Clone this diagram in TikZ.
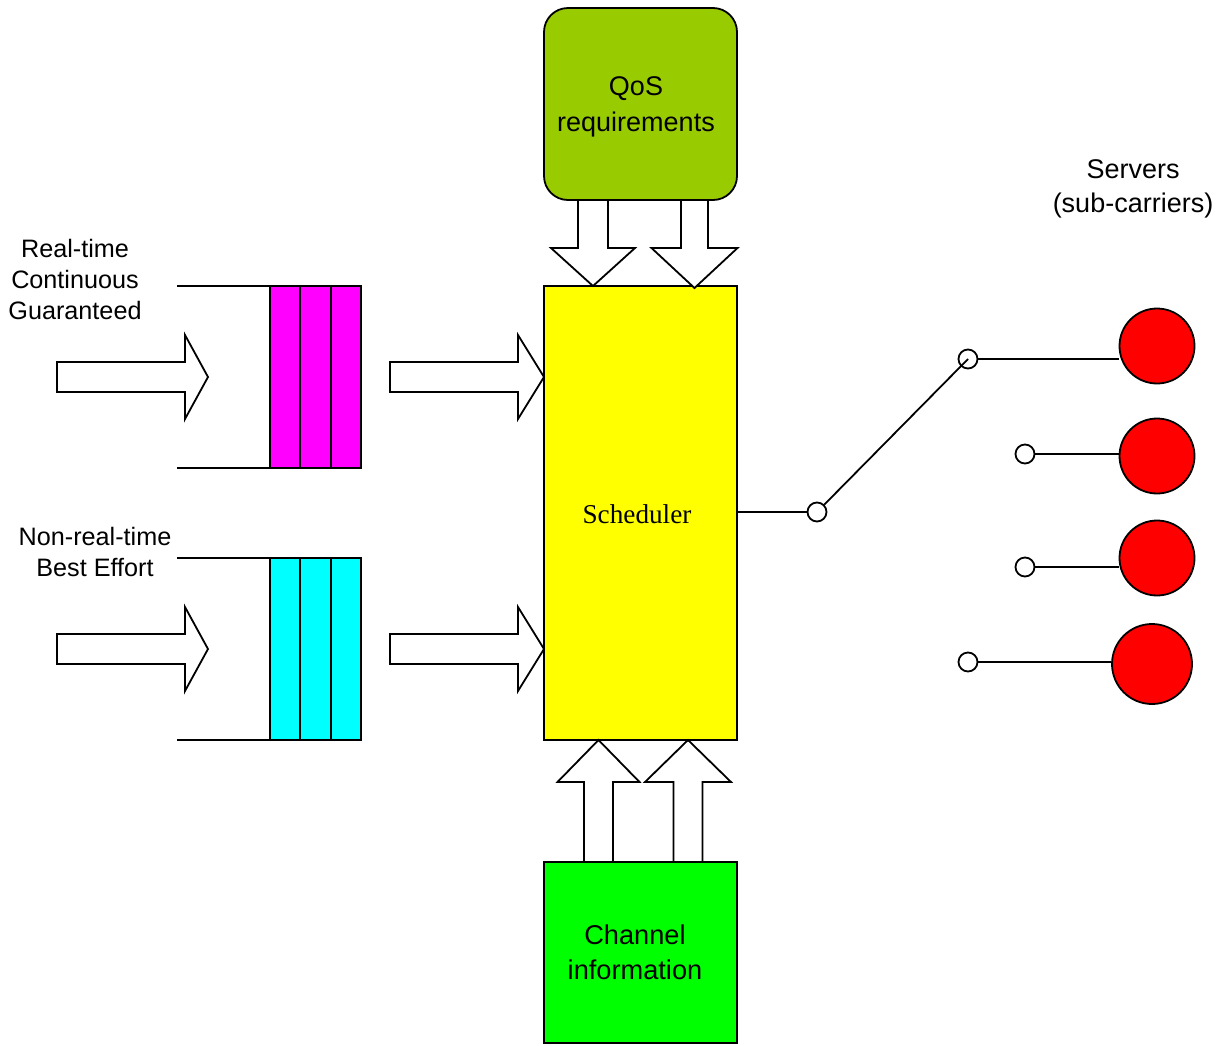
\documentclass[tikz,border=0pt]{standalone}
\usepackage{fontspec}
\setmainfont{Liberation Sans}
\newfontfamily\serifrm{Liberation Serif}
\begin{document}
\begin{tikzpicture}[x=0.5pt,y=-0.5pt,
  line width=0.9pt,
  box/.style={draw=black, line width=0.9pt, inner sep=0pt, minimum width=96.5pt, align=center},
  cell/.style={draw=black, line width=0.9pt, inner sep=0pt, minimum width=15.25pt, minimum height=91pt},
  blk/.style={draw=black, fill=white, line width=0.9pt, line join=miter},
  contact/.style={circle, draw=black, fill=white, line width=0.9pt, minimum size=9.5pt, inner sep=0pt},
  server/.style={circle, draw=black, fill=pred, line width=0.9pt, inner sep=0pt},
  lbl/.style={font=\fontsize{12.6}{15.5}\selectfont, align=center, inner sep=0pt},
  big/.style={font=\fontsize{13.5}{18}\selectfont}
]
\definecolor{qosgreen}{HTML}{99CC00}
\definecolor{pyellow}{HTML}{FFFF00}
\definecolor{pgreen}{HTML}{00FF00}
\definecolor{pmagenta}{HTML}{FF00FF}
\definecolor{pcyan}{HTML}{00FFFF}
\definecolor{pred}{HTML}{FF0000}
\useasboundingbox (0,0) rectangle (1232,1045);

% main boxes
\node[box, fill=qosgreen, rounded corners=12pt, minimum height=96pt] (qos) at (640.5,104) {};
\node[big, align=center, inner sep=0pt] (qost) at (636,107) {QoS\\requirements};
\node[box, fill=pyellow, minimum height=227pt] (sched) at (640.5,513) {};
\node[font=\serifrm\fontsize{13.6}{16}\selectfont, inner sep=0pt] (schedt) at (637,514) {Scheduler};
\node[box, fill=pgreen, minimum height=90.5pt] (chan) at (640.5,952.5) {};
\node[font=\fontsize{13.6}{17.5}\selectfont, align=center, inner sep=0pt] (chant) at (635,952) {Channel\\information};

% queues
\node[cell, fill=pmagenta] (q1a) at (285,377) {};
\node[cell, fill=pmagenta] (q1b) at (315.5,377) {};
\node[cell, fill=pmagenta] (q1c) at (346,377) {};
\node[cell, fill=pcyan] (q2a) at (285,649) {};
\node[cell, fill=pcyan] (q2b) at (315.5,649) {};
\node[cell, fill=pcyan] (q2c) at (346,649) {};
\coordinate (q1t) at (177,286);
\coordinate (q1b0) at (177,468);
\coordinate (q2t) at (177,558);
\coordinate (q2b0) at (177,740);
\draw (q1t) -- (q1t -| q1a.west);
\draw (q1b0) -- (q1b0 -| q1a.west);
\draw (q2t) -- (q2t -| q2a.west);
\draw (q2b0) -- (q2b0 -| q2a.west);

% labels
\node[lbl] (l1) at (75,279) {Real-time\\Continuous\\Guaranteed};
\node[lbl] (l2) at (95,551.5) {Non-real-time\\Best Effort};
\node[lbl, font=\fontsize{13.5}{17}\selectfont] (l3) at (1133,189) {Servers\\(sub-carriers)};

% horizontal block arrows: tail x, head x, tip x, centre y
\newcommand\harr[4]{\draw[blk] ({#1},{#4-15}) -- ({#2},{#4-15}) -- ({#2},{#4-42}) -- ({#3},{#4}) -- ({#2},{#4+42}) -- ({#2},{#4+15}) -- ({#1},{#4+15}) -- cycle;}
% vertical block arrows: centre x, tail y, head y, tip y, shaft half, head half
\newcommand\varr[6]{\draw[blk] ({#1-#5},{#2}) -- ({#1-#5},{#3}) -- ({#1-#6},{#3}) -- ({#1},{#4}) -- ({#1+#6},{#3}) -- ({#1+#5},{#3}) -- ({#1+#5},{#2}) -- cycle;}

\harr{57}{185}{208}{377}
\harr{57}{185}{208}{649}
\harr{390}{518}{544}{377}
\harr{390}{518}{544}{649}

\varr{593}{200}{248}{286}{15}{42}
\varr{694.5}{200}{248}{288}{13.5}{43}
\varr{598.5}{862}{782}{740}{14.5}{41}
\varr{688}{862}{782}{740}{14.5}{43}

% switch
\node[contact] (c0) at (817,512) {};
\node[contact] (c1) at (968,359) {};
\node[contact] (c2) at (1025,454) {};
\node[contact] (c3) at (1025,567) {};
\node[contact] (c4) at (968,662) {};
\draw (sched.east |- c0) -- (c0);
\draw (c0) -- (c1.center);

% servers
\node[server, minimum size=37.5pt] (s1) at (1157,346) {};
\node[server, minimum size=37.5pt] (s2) at (1157,456) {};
\node[server, minimum size=37.5pt] (s3) at (1157,558) {};
\node[server, minimum size=40pt] (s4) at (1152,664) {};
\draw (c1) -- (c1 -| s1.west);
\draw (c2) -- (c2 -| s2.west);
\draw (c3) -- (c3 -| s3.west);
\draw (c4) -- (c4 -| s4.west);
\end{tikzpicture}
\end{document}
